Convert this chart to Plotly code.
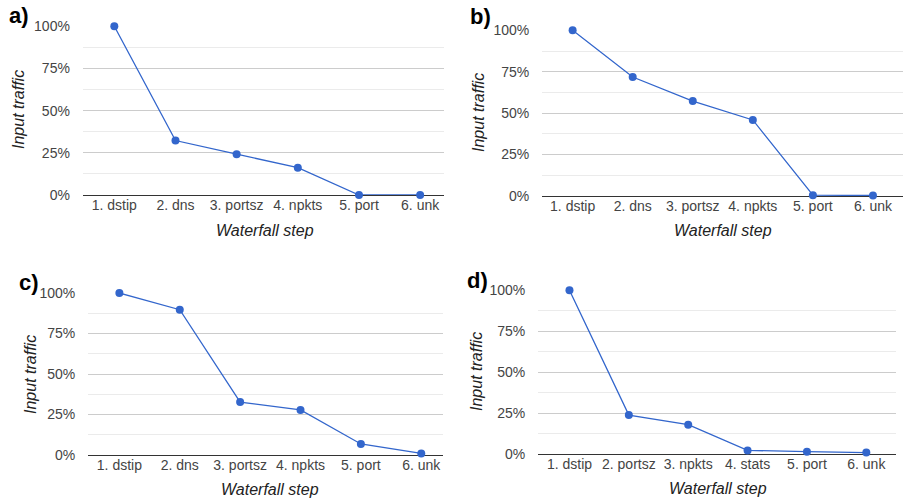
import plotly.graph_objects as go

W, H = 905, 499

# ---- data ----
steps_a = ["1. dstip", "2. dns", "3. portsz", "4. npkts", "5. port", "6. unk"]
vals_a = [100, 32.3, 24.2, 16.2, 0, 0]

steps_b = ["1. dstip", "2. dns", "3. portsz", "4. npkts", "5. port", "6. unk"]
vals_b = [100, 71.8, 57.3, 45.9, 0.5, 0.3]

steps_c = ["1. dstip", "2. dns", "3. portsz", "4. npkts", "5. port", "6. unk"]
vals_c = [100, 89.7, 32.7, 27.8, 6.8, 1.0]

steps_d = ["1. dstip", "2. portsz", "3. npkts", "4. stats", "5. port", "6. unk"]
vals_d = [100, 23.8, 17.9, 2.2, 1.4, 0.9]

panel_labels = ["a)", "b)", "c)", "d)"]
y_ticks = [0, 25, 50, 75, 100]
y_tick_text = ["0%", "25%", "50%", "75%", "100%"]
x_title = "Waterfall step"
y_title = "Input traffic"

# ---- layout geometry (pixels) ----
panels = [
    dict(steps=steps_a, vals=vals_a, box=(82.7, 444, 26.3, 195), xr=(-0.517, 5.39),
         lab=(7, 15), xt=(265, 230), yt=(18, 110)),
    dict(steps=steps_b, vals=vals_b, box=(542, 903, 30.3, 196), xr=(-0.51, 5.5),
         lab=(468, 16), xt=(723, 230), yt=(478, 113)),
    dict(steps=steps_c, vals=vals_c, box=(88, 443, 293, 455), xr=(-0.52, 5.36),
         lab=(17, 282), xt=(270, 489), yt=(30, 375)),
    dict(steps=steps_d, vals=vals_d, box=(538, 896, 290.3, 454), xr=(-0.53, 5.5),
         lab=(465, 280), xt=(718, 488), yt=(476, 372)),
]

FONT = "Liberation Sans, Arial, sans-serif"
BLUE = "#3366cc"

fig = go.Figure()
annotations = []
layout = {}
for i, p in enumerate(panels):
    n = "" if i == 0 else str(i + 1)
    xa, ya = "x" + n, "y" + n
    fig.add_trace(go.Scatter(
        x=list(range(len(p["steps"]))), y=p["vals"], xaxis=xa, yaxis=ya,
        mode="lines+markers", line=dict(color=BLUE, width=1.3),
        marker=dict(color=BLUE, size=8), cliponaxis=False, showlegend=False,
        hoverinfo="skip"))
    x0, x1, y0, y1 = p["box"]
    layout["xaxis" + n] = dict(
        domain=[x0 / W, x1 / W], anchor=ya, range=list(p["xr"]), automargin=False,
        tickmode="array", tickvals=list(range(len(p["steps"]))), ticktext=p["steps"],
        showgrid=False, zeroline=False, showline=False, ticks="",
        tickfont=dict(family=FONT, size=14, color="#444"), fixedrange=True)
    layout["yaxis" + n] = dict(
        domain=[1 - y1 / H, 1 - y0 / H], anchor=xa, range=[0, 100], automargin=False,
        tickmode="array", tickvals=y_ticks, ticktext=y_tick_text,
        showgrid=True, gridcolor="#cccccc", gridwidth=1,
        minor=dict(dtick=12.5, tick0=0, showgrid=True, gridcolor="#ebebeb", gridwidth=1),
        zeroline=True, zerolinecolor="#333333", zerolinewidth=1, showline=False,
        ticks="outside", ticklen=9, tickcolor="rgba(0,0,0,0)",
        tickfont=dict(family=FONT, size=14, color="#444"), fixedrange=True)
    annotations.append(dict(
        text="<b>" + panel_labels[i] + "</b>", x=p["lab"][0] / W, y=1 - p["lab"][1] / H,
        xref="paper", yref="paper", xanchor="left", yanchor="middle", showarrow=False,
        font=dict(family=FONT, size=22, color="#000")))
    annotations.append(dict(
        text="<i>" + x_title + "</i>", x=p["xt"][0] / W, y=1 - p["xt"][1] / H,
        xref="paper", yref="paper", xanchor="center", yanchor="middle", showarrow=False,
        font=dict(family=FONT, size=16, color="#222")))
    annotations.append(dict(
        text="<i>" + y_title + "</i>", x=p["yt"][0] / W, y=1 - p["yt"][1] / H,
        xref="paper", yref="paper", xanchor="center", yanchor="middle", showarrow=False,
        textangle=-90, font=dict(family=FONT, size=16, color="#222")))

fig.update_layout(
    template="none",
    width=W, height=H, margin=dict(l=0, r=0, t=0, b=0, autoexpand=False),
    paper_bgcolor="white", plot_bgcolor="white",
    annotations=annotations, **layout)

fig.write_html("out.html", config={"displayModeBar": False},
               post_script="document.body.style.margin='0';document.body.style.overflow='hidden';")
